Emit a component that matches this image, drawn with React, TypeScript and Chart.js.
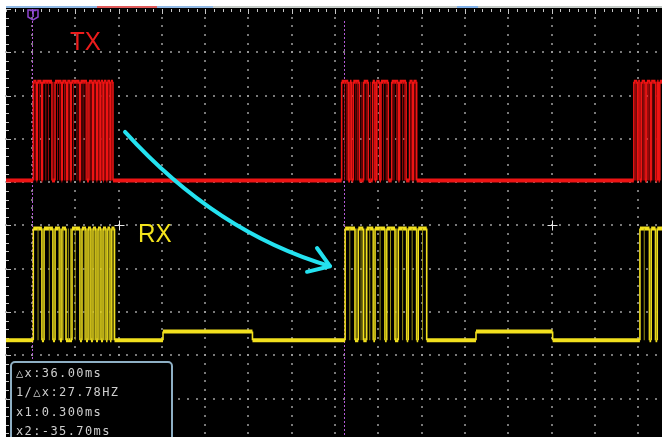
import { useEffect, useRef } from 'react';
import { Chart, registerables } from 'chart.js';

Chart.register(...registerables);

// ---- axes (time in ms, 5 ms/div; vertical in divisions, 0 = screen centre) ----
const X_MIN = -3.0;
const X_MAX = 72.75;
const Y_MIN = -4.885;
const Y_MAX = 5;
const gridTimes = [0, 5, 10, 15, 20, 25, 30, 35, 40, 45, 50, 55, 60, 65, 70];
const gridLevels = [-4, -3, -2, -1, 0, 1, 2, 3, 4];

// ---- signal levels (divisions) ----
const TX_LOW = 1.04;
const TX_HIGH = 3.32;
const RX_LOW = -2.65;
const RX_HIGH = -0.07;
const RX_MID = -2.45;

// ---- TX (red) : intervals where the line is high, ms ----
const txHigh: [number, number][] = [
  [0.15, 0.52], [0.61, 1.10], [1.21, 2.31], [2.66, 3.41], [3.50, 3.98], [4.08, 4.45],
  [4.54, 5.49], [5.60, 6.35], [6.58, 6.99], [7.08, 7.45], [7.54, 7.85], [7.94, 8.20],
  [8.29, 8.60], [8.70, 9.01], [9.10, 9.35],
  [35.76, 36.52], [36.72, 36.90], [37.10, 37.80], [38.30, 38.83], [39.34, 39.60],
  [39.75, 40.15], [40.30, 41.14], [41.54, 42.30], [42.45, 43.20], [43.60, 43.95],
  [44.05, 44.42],
  [69.50, 69.90], [70.00, 70.20], [70.40, 70.80], [71.00, 71.40], [71.50, 72.00],
  [72.20, 72.35], [72.50, 73.50],
];
// faint persistence edges inside TX bursts, ms
const txGhost = [
  0.35, 0.85, 1.6, 1.9, 2.45, 2.95, 3.2, 3.75, 4.25, 4.8, 5.2, 5.9, 6.15, 6.8, 7.25, 7.7,
  8.05, 8.45, 8.85, 9.2,
  36.1, 36.35, 37.4, 37.6, 38.1, 38.6, 39.1, 39.9, 40.6, 40.9, 41.8, 42.1, 42.8, 43.0,
  43.8, 44.25,
  69.7, 70.1, 70.6, 71.2, 71.7, 72.1,
];

// ---- RX (yellow) : high intervals and mid-level intervals, ms ----
const rxHigh: [number, number][] = [
  [0.15, 1.15], [1.39, 2.42], [2.66, 3.23], [3.46, 3.93], [4.62, 5.54], [5.77, 6.24],
  [6.47, 6.81], [7.04, 7.39], [7.62, 7.97], [8.20, 8.55], [8.72, 9.01], [9.18, 9.53],
  [36.16, 37.30], [37.68, 38.26], [38.65, 39.41], [39.61, 40.76], [40.96, 41.92],
  [42.30, 43.27], [43.45, 44.42], [44.60, 45.58],
  [70.20, 71.30], [71.50, 72.00], [72.20, 73.50],
];
const rxMid: [number, number][] = [
  [15.13, 25.46],
  [51.27, 60.12],
];
// faint persistence edges inside RX bursts, ms
const rxGhost = [
  0.7, 1.3, 2.0, 2.55, 3.1, 3.6, 4.2, 4.45, 5.0, 5.65, 6.05, 6.35, 6.65, 6.95, 7.2, 7.5,
  7.8, 8.1, 8.4, 8.65, 8.9, 9.1, 9.35,
  36.7, 37.5, 38.0, 38.45, 39.0, 39.5, 40.2, 40.85, 41.4, 42.1, 42.8, 43.35, 43.9, 44.5,
  45.1,
  70.7, 71.4, 72.1,
];

// ---- cursor read-out ----
const cursorTimes = [0, 36];
const readout = ['\u25B3x:36.00ms', '1/\u25B3x:27.78HZ', 'x1:0.300ms', 'x2:-35.70ms'];

type Pt = { x: number; y: number } | null;

function buildTrace(intervals: [number, number, number][], low: number): Pt[] {
  const sorted = [...intervals].sort((a, b) => a[0] - b[0]);
  const pts: Pt[] = [{ x: X_MIN, y: low }];
  for (const [s, e, lvl] of sorted) {
    pts.push({ x: s, y: low }, { x: s, y: lvl }, { x: e, y: lvl }, { x: e, y: low });
  }
  pts.push({ x: X_MAX + 1, y: low });
  return pts;
}

function buildEdges(times: number[], low: number, high: number): any[] {
  const pts: any[] = [];
  times.forEach((t) => {
    pts.push({ x: t, y: low }, { x: t, y: high }, { x: t, y: null });
  });
  return pts;
}

const txData = buildTrace(txHigh.map(([s, e]) => [s, e, TX_HIGH] as [number, number, number]), TX_LOW);
const rxData = buildTrace(
  [
    ...rxHigh.map(([s, e]) => [s, e, RX_HIGH] as [number, number, number]),
    ...rxMid.map(([s, e]) => [s, e, RX_MID] as [number, number, number]),
  ],
  RX_LOW,
);
const txGhostData = buildEdges(txGhost, TX_LOW, TX_HIGH);
const rxGhostData = buildEdges(rxGhost, RX_LOW, RX_HIGH);

const scopePlugin = {
  id: 'scope',
  beforeDraw(chart: any) {
    const { ctx, chartArea: a } = chart;
    ctx.save();
    ctx.fillStyle = '#ffffff';
    ctx.fillRect(0, 0, chart.width, chart.height);
    ctx.fillStyle = '#000000';
    ctx.fillRect(a.left, a.top - 1, a.right - a.left, a.bottom - a.top + 1);
    const strip = (x0: number, x1: number, c: string) => {
      ctx.fillStyle = c;
      ctx.fillRect(x0, a.top - 3, x1 - x0, 2);
    };
    strip(a.left, 97, '#8fb8e4');
    strip(97, 157, '#e05a5a');
    strip(157, 213, '#8fb8e4');
    strip(213, 457, '#c4cac6');
    strip(457, 478, '#7fb0e8');
    strip(478, a.right, '#c4cac6');
    ctx.restore();
  },
  beforeDatasetsDraw(chart: any) {
    const { ctx, chartArea: a, scales } = chart;
    const xs = scales.x;
    const ys = scales.y;
    ctx.save();
    ctx.fillStyle = 'rgba(160,160,160,0.75)';
    for (const t of gridTimes) {
      const x = Math.round(xs.getPixelForValue(t));
      for (let k = -24; k <= 24; k++) {
        const y = Math.round(ys.getPixelForValue(k * 0.2));
        ctx.fillRect(x - 1, y - 1, 2, 2);
      }
    }
    for (const v of gridLevels) {
      const y = Math.round(ys.getPixelForValue(v));
      for (let t = -3; t <= 72; t += 1) {
        const x = Math.round(xs.getPixelForValue(t));
        ctx.fillRect(x - 1, y - 1, 2, 2);
      }
    }
    ctx.fillStyle = '#c8c8c8';
    for (let t = -3; t <= 72; t += 1) {
      const x = Math.round(xs.getPixelForValue(t));
      ctx.fillRect(x, a.top, 1, t % 5 === 0 ? 5 : 3);
    }
    for (let k = -24; k <= 25; k++) {
      const y = Math.round(ys.getPixelForValue(k * 0.2));
      ctx.fillRect(a.left, y, k % 5 === 0 ? 5 : 3, 1);
    }
    ctx.strokeStyle = '#b45ad6';
    ctx.lineWidth = 1;
    ctx.setLineDash([2, 2]);
    for (const t of cursorTimes) {
      const x = Math.round(xs.getPixelForValue(t)) + 0.5;
      ctx.beginPath();
      ctx.moveTo(x, a.top + 12);
      ctx.lineTo(x, a.bottom);
      ctx.stroke();
    }
    ctx.setLineDash([]);
    ctx.strokeStyle = '#e8e8e8';
    for (const t of [10, 60]) {
      const x = Math.round(xs.getPixelForValue(t)) + 0.5;
      const y = Math.round(ys.getPixelForValue(0)) + 0.5;
      ctx.beginPath();
      ctx.moveTo(x - 5, y);
      ctx.lineTo(x + 5, y);
      ctx.moveTo(x, y - 5);
      ctx.lineTo(x, y + 5);
      ctx.stroke();
    }
    ctx.restore();
  },
  afterDatasetsDraw(chart: any) {
    const { ctx, chartArea: a, scales } = chart;
    const xs = scales.x;
    const ys = scales.y;
    const P = (t: number, v: number) => [xs.getPixelForValue(t), ys.getPixelForValue(v)];
    ctx.save();
    const tx = Math.round(xs.getPixelForValue(0)) + 1;
    ctx.strokeStyle = '#8e44d0';
    ctx.lineWidth = 1.5;
    ctx.beginPath();
    ctx.moveTo(tx - 5, a.top + 1);
    ctx.lineTo(tx + 5, a.top + 1);
    ctx.lineTo(tx + 5, a.top + 8);
    ctx.lineTo(tx, a.top + 11);
    ctx.lineTo(tx - 5, a.top + 8);
    ctx.closePath();
    ctx.stroke();
    ctx.fillStyle = '#8e44d0';
    ctx.font = 'bold 9px "DejaVu Sans"';
    ctx.textAlign = 'center';
    ctx.textBaseline = 'middle';
    ctx.fillText('T', tx, a.top + 5.5);

    ctx.textAlign = 'left';
    ctx.textBaseline = 'alphabetic';
    ctx.font = '26px "Liberation Sans"';
    const label = (txt: string, t: number, v: number, c: string) => {
      const [x, y] = P(t, v);
      ctx.save();
      ctx.translate(x, y);
      ctx.scale(0.93, 1);
      ctx.fillStyle = c;
      ctx.fillText(txt, 0, 0);
      ctx.restore();
    };
    label('TX', 4.39, 4.05, '#ec1c1c');
    label('RX', 12.24, -0.38, '#f4e41c');

    const [x0, y0] = P(10.74, 2.16);
    const [cx, cy] = P(21.3, -0.17);
    const [x1, y1] = P(34.41, -0.94);
    const [bx1, by1] = P(32.91, -0.52);
    const [bx2, by2] = P(31.76, -1.07);
    ctx.strokeStyle = '#24e2f0';
    ctx.lineWidth = 4;
    ctx.lineCap = 'round';
    ctx.lineJoin = 'round';
    ctx.beginPath();
    ctx.moveTo(x0, y0);
    ctx.quadraticCurveTo(cx, cy, x1, y1);
    ctx.stroke();
    ctx.beginPath();
    ctx.moveTo(bx1, by1);
    ctx.lineTo(x1, y1);
    ctx.lineTo(bx2, by2);
    ctx.stroke();

    ctx.lineCap = 'butt';
    ctx.fillStyle = '#000000';
    ctx.strokeStyle = '#8eafc4';
    ctx.lineWidth = 2;
    ctx.beginPath();
    ctx.roundRect(11, 362, 161, 90, 4);
    ctx.fill();
    ctx.stroke();
    ctx.fillStyle = '#cfcfcf';
    ctx.font = '12px "DejaVu Sans Mono"';
    (ctx as any).letterSpacing = '1.4px';
    readout.forEach((s, i) => {
      ctx.fillText(s, 16, 377 + i * 19.4);
    });
    ctx.restore();
  },
};

export default function App() {
  const ref = useRef<HTMLCanvasElement | null>(null);
  useEffect(() => {
    if (!ref.current) return;
    const seg = {
      borderWidth: (c: any) => (c.p0.parsed.x === c.p1.parsed.x ? 1.6 : 4),
    };
    const chart = new Chart(ref.current, {
      type: 'line',
      data: {
        datasets: [
          {
            label: 'TX ghost',
            data: txGhostData,
            borderColor: 'rgba(175,10,10,0.9)',
            borderWidth: 1,
            pointRadius: 0,
            spanGaps: false,
          },
          {
            label: 'RX ghost',
            data: rxGhostData,
            borderColor: 'rgba(170,160,20,0.9)',
            borderWidth: 1,
            pointRadius: 0,
            spanGaps: false,
          },
          {
            label: 'TX',
            data: txData,
            borderColor: '#ee1414',
            borderWidth: 4,
            pointRadius: 0,
            segment: seg,
          },
          {
            label: 'RX',
            data: rxData,
            borderColor: '#f2e01e',
            borderWidth: 4,
            pointRadius: 0,
            segment: seg,
          },
        ],
      },
      options: {
        responsive: false,
        animation: false,
        events: [],
        layout: { padding: { left: 6, top: 9, right: 0, bottom: 0 } },
        plugins: { legend: { display: false }, tooltip: { enabled: false } },
        scales: {
          x: { type: 'linear', min: X_MIN, max: X_MAX, display: false },
          y: { type: 'linear', min: Y_MIN, max: Y_MAX, display: false },
        },
      },
      plugins: [scopePlugin],
    } as any);
    return () => chart.destroy();
  }, []);
  return (
    <div style={{ position: 'fixed', left: 0, top: 0, width: 662, height: 437, overflow: 'hidden', background: '#fff' }}>
      <canvas ref={ref} width={662} height={437} style={{ display: 'block' }} />
    </div>
  );
}
